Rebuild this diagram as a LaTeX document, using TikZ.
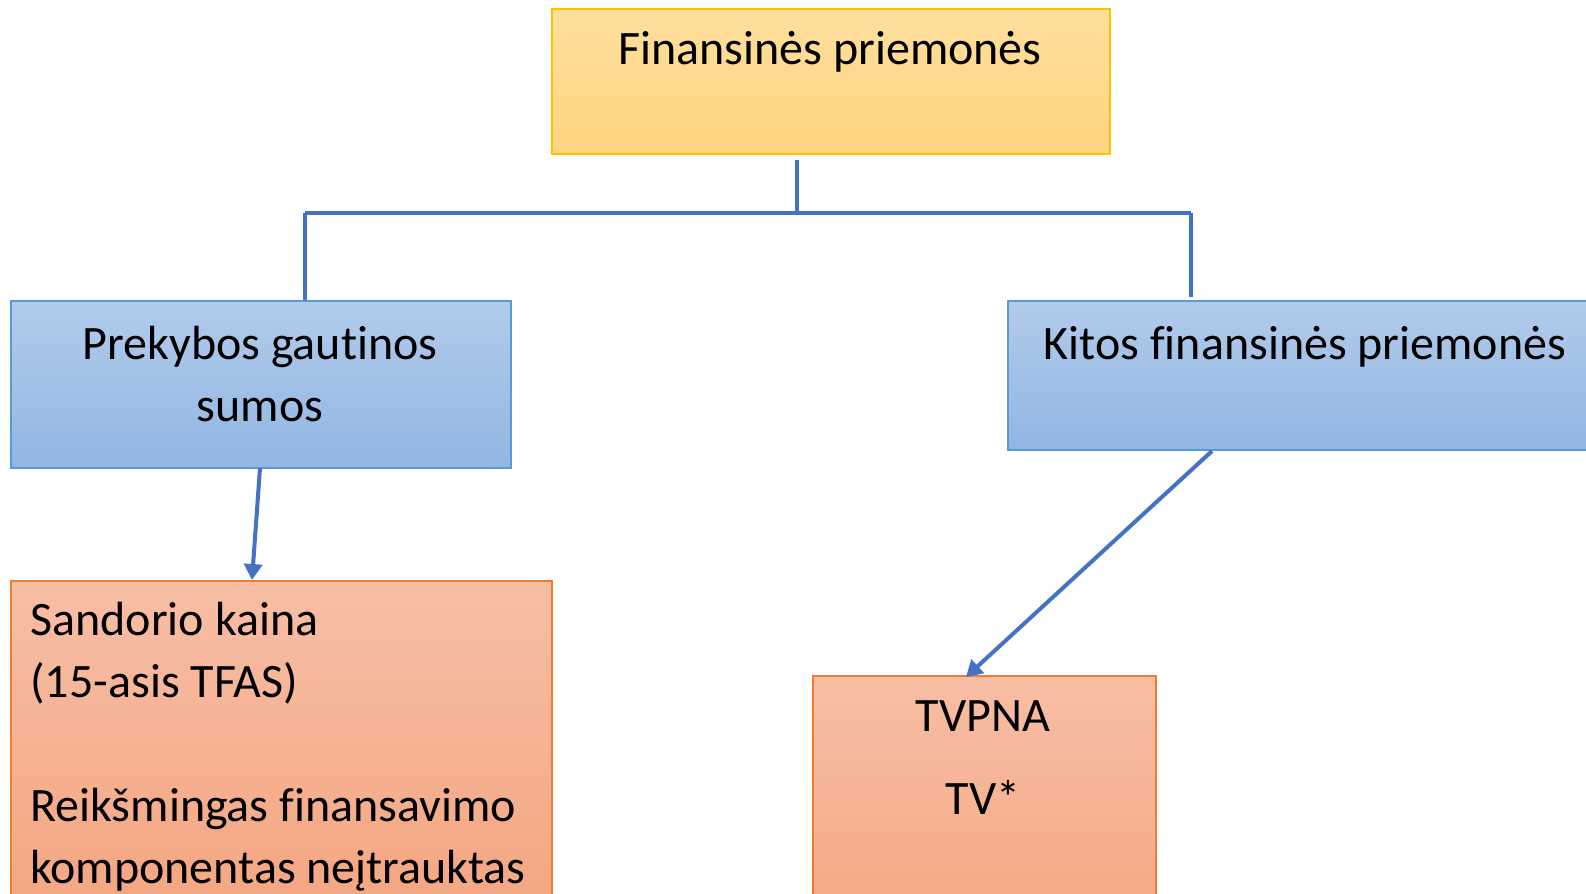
\documentclass[tikz,border=0pt]{standalone}
\usepackage{fontspec}
\setmainfont[Ligatures={NoCommon}]{Carlito}
\usetikzlibrary{arrows.meta}
\definecolor{conn}{RGB}{68,114,196}
\definecolor{ytop}{RGB}{255,223,158}
\definecolor{ybot}{RGB}{254,212,126}
\definecolor{yline}{RGB}{255,192,0}
\definecolor{btop}{RGB}{177,203,235}
\definecolor{bbot}{RGB}{146,182,227}
\definecolor{bline}{RGB}{91,155,213}
\definecolor{otop}{RGB}{247,190,165}
\definecolor{obot}{RGB}{244,165,128}
\definecolor{oline}{RGB}{237,125,49}
\tikzset{
  boxbase/.style={rectangle, anchor=north west, inner sep=0pt, line width=0.75pt},
  ybox/.style={boxbase, draw=yline, top color=ytop, bottom color=ybot},
  bbox/.style={boxbase, draw=bline, top color=btop, bottom color=bbot},
  obox/.style={boxbase, draw=oline, top color=otop, bottom color=obot},
  lbl/.style={font=\fontsize{24}{31}\selectfont, inner sep=0pt},
  conline/.style={draw=conn, line width=2pt},
  conarrow/.style={conline, -{Triangle[width=9pt,length=8pt]}}
}
\begin{document}
\begin{tikzpicture}[x=0.5pt,y=-0.5pt]
\useasboundingbox (0,0) rectangle (1586,894);
\clip (0,0) rectangle (1586,894);
% boxes
\node[ybox, minimum width=279pt, minimum height=72.5pt] (top) at (551,8) {};
\node[bbox, minimum width=250pt, minimum height=83.5pt] (left) at (10,300) {};
\node[bbox, minimum width=310pt, minimum height=74.5pt] (right) at (1007,300) {};
\node[obox, minimum width=270.5pt, minimum height=170pt] (lres) at (10,580) {};
\node[obox, minimum width=171.5pt, minimum height=140pt] (rres) at (812,675) {};
% labels
\node[lbl, anchor=base] (toplbl) at (830,64) {Finansinės priemonės};
\node[lbl, anchor=base] (leftl1) at (260,359) {Prekybos gautinos};
\node[lbl, anchor=base] (leftl2) at (260,421) {sumos};
\node[lbl, anchor=base] (rightlbl) at (1305,359) {Kitos finansinės priemonės};
\node[lbl, anchor=base west] (lr1) at (30,635) {Sandorio kaina};
\node[lbl, anchor=base west] (lr2) at (30,697) {(15-asis TFAS)};
\node[lbl, anchor=base west] (lr3) at (30,821) {Reikšmingas finansavimo};
\node[lbl, anchor=base west] (lr4) at (30,883) {komponentas neįtrauktas};
\node[lbl, anchor=base] (rr1) at (983,731) {TVPNA};
\node[lbl, anchor=base] (rr2) at (983,814) {TV*};
% connectors
\coordinate (topout) at (797,160);
\coordinate (jc) at (797,213);
\coordinate (jl) at (305,213);
\coordinate (jr) at (1191,213);
\coordinate (lin) at (305,300);
\coordinate (rin) at (1191,297);
\draw[conline] (topout) -- (jc);
\draw[conline] (jl) -- (jr);
\draw[conline] (jl) -- (lin);
\draw[conline] (jr) -- (rin);
\coordinate (lout) at (260,468);
\coordinate (lend) at (252,580);
\coordinate (rout) at (1212,451);
\coordinate (rend) at (966,677);
\draw[conarrow] (lout) -- (lend);
\draw[conarrow] (rout) -- (rend);
\end{tikzpicture}
\end{document}
